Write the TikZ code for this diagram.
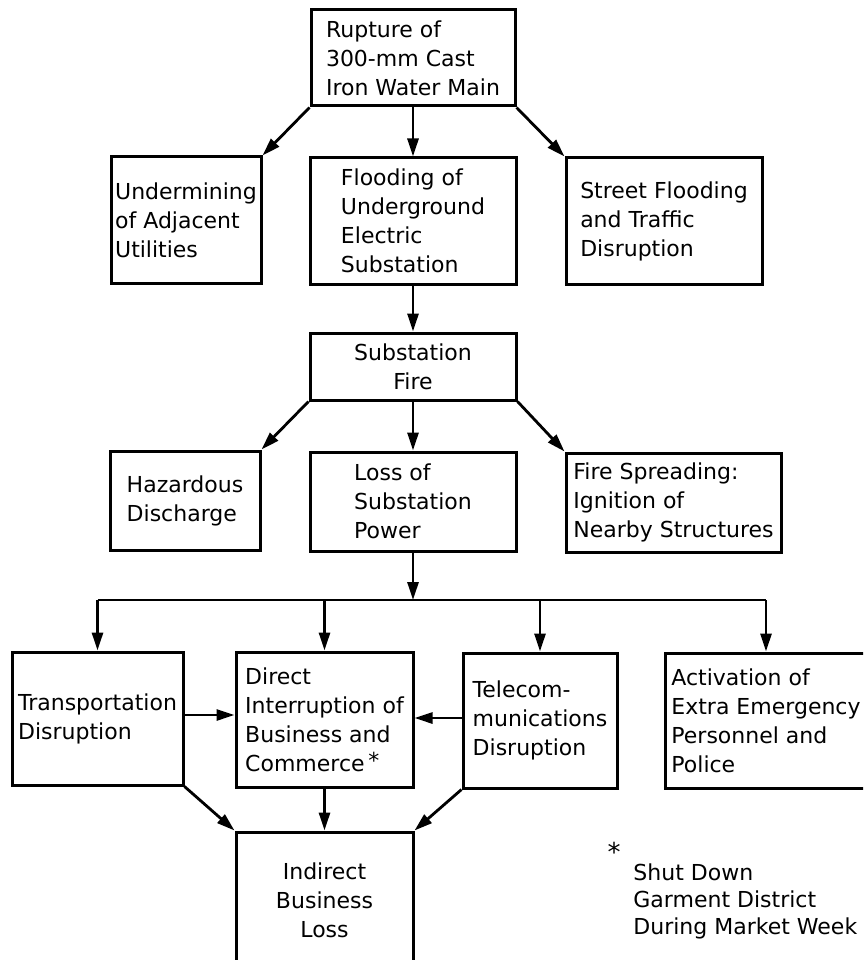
\documentclass[tikz,border=0pt]{standalone}
\usepackage{fontspec}
\setmainfont{DejaVu Sans}
\usetikzlibrary{arrows.meta}

\begin{document}
\begin{tikzpicture}[x=1pt, y=-1pt, >={Triangle[length=18pt,width=11pt]}, line width=2.8pt,
  box/.style={draw, line width=3pt, align=left, inner sep=0pt, font=\fontsize{22}{29}\selectfont},
  cbox/.style={box, align=center}]
\clip (0,0) rectangle (863,960);
\fill[white] (0,0) rectangle (863,960);
% top level
\node[box, minimum width=204pt, minimum height=96pt] (rupture) at (413,58) {Rupture of\\300-mm Cast\\Iron Water Main};
\node[box, minimum width=150pt, minimum height=126pt] (under) at (186,220) {Undermining\\of Adjacent\\Utilities};
\node[box, minimum width=206pt, minimum height=126pt] (flood) at (413,221) {Flooding of\\Underground\\Electric\\Substation};
\node[box, minimum width=196pt, minimum height=126pt] (street) at (664,221) {Street Flooding\\and Traffic\\Disruption};
\draw[->] (rupture.south west) -- (under.north east);
\draw[->] (rupture.south) -- (flood.north);
\draw[->] (rupture.south east) -- (street.north west);
% substation fire
\node[cbox, minimum width=206pt, minimum height=67pt] (fire) at (413,366.5) {Substation\\Fire};
\draw[->] (flood.south) -- (fire.north);
\node[box, minimum width=150pt, minimum height=99pt] (haz) at (185,500.5) {Hazardous\\Discharge};
\node[box, minimum width=206pt, minimum height=99pt] (loss) at (413,501.5) {Loss of\\Substation\\Power};
\node[box, minimum width=215pt, minimum height=99pt] (spread) at (673.5,502.5) {Fire Spreading:\\Ignition of\\Nearby Structures};
\draw[->] (fire.south west) -- (haz.north east);
\draw[->] (fire.south) -- (loss.north);
\draw[->] (fire.south east) -- (spread.north west);
% power loss effects
\node[box, minimum width=171pt, minimum height=133pt] (transp) at (97.5,718.5) {Transportation\\Disruption};
\node[box, minimum width=177pt, minimum height=135pt] (direct) at (324.5,719.5) {Direct\\Interruption of\\Business and\\Commerce\,\raisebox{3pt}{*}};
\node[box, minimum width=154pt, minimum height=135pt] (telecom) at (540,720.5) {Telecom-\\munications\\Disruption};
\node[box, minimum width=202pt, minimum height=135pt] (activ) at (766,720.5) {Activation of\\Extra Emergency\\Personnel and\\Police};
\coordinate (split) at (413,600);
\draw[->] (loss.south) -- (split);
\draw (transp.north |- split) -- (activ.north |- split);
\foreach \n in {transp, direct, telecom, activ}
  \draw[->] (\n.north |- split) -- (\n.north);
% indirect loss
\node[cbox, minimum width=177pt, minimum height=136pt] (indirect) at (324.5,900) {Indirect\\Business\\Loss};
\draw[->] (transp.east |- 0,715) -- (direct.west |- 0,715);
\draw[->] (telecom.west |- 0,718) -- (direct.east |- 0,718);
\draw[->] (direct.south) -- (indirect.north);
\draw[->] (transp.south east) -- (indirect.north west);
\draw[->] (telecom.south west) -- (indirect.north east);
% footnote
\node[font=\fontsize{26}{26}\selectfont, inner sep=0pt] (star) at (614,852) {*};
\node[anchor=north west, align=left, inner sep=0pt, font=\fontsize{22}{27}\selectfont] (note) at (632,862) {Shut Down\\Garment District\\During Market Week};
\end{tikzpicture}
\end{document}
